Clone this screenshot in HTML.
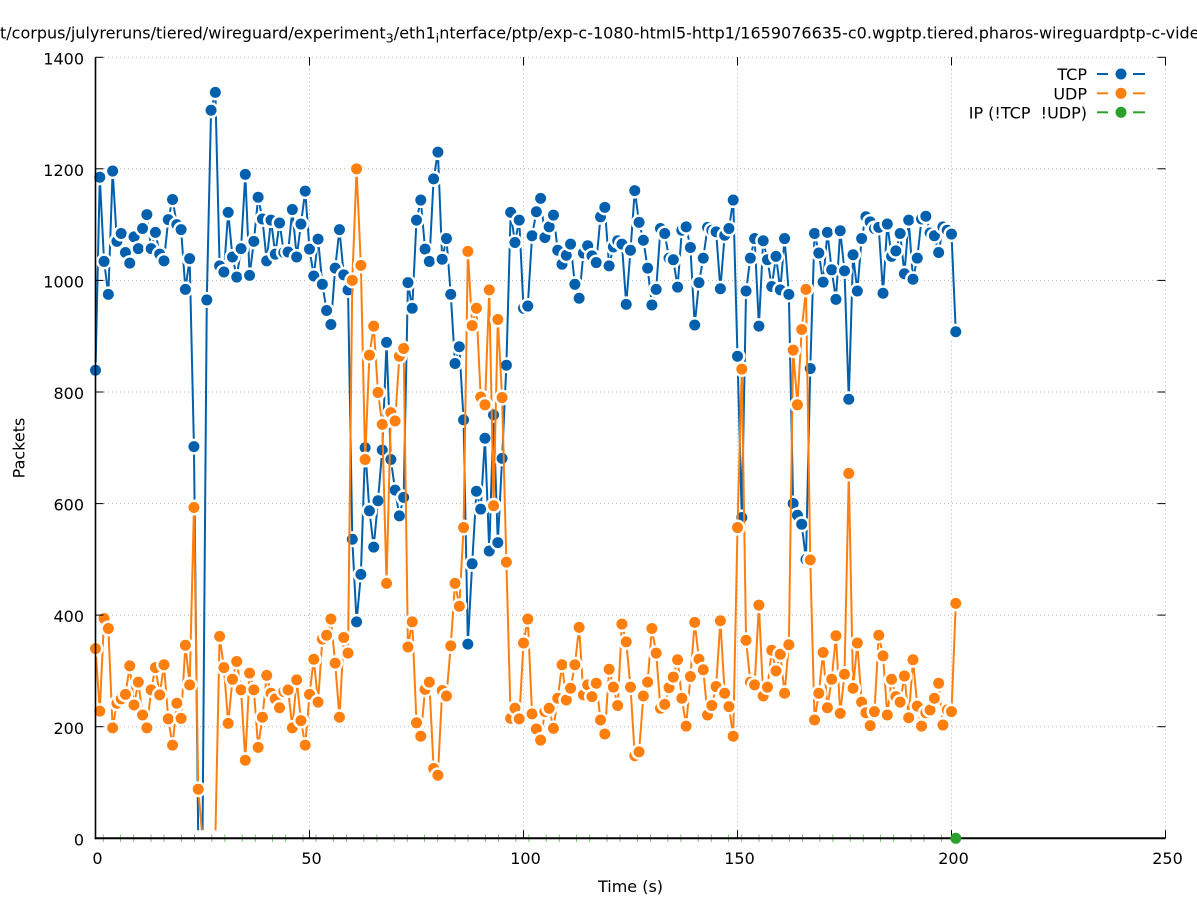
<!DOCTYPE html>
<html>
<head>
<meta charset="utf-8">
<style>
html,body{margin:0;padding:0;background:#fff;}
svg{display:block;}
text{font-family:"DejaVu Sans","Liberation Sans",sans-serif;font-size:16px;fill:#000;}
</style>
</head>
<body>
<svg id="s" width="1197" height="900" viewBox="0 0 1197 900" xmlns="http://www.w3.org/2000/svg">
<rect width="1197" height="900" fill="#fff"/>
<g stroke="#b4b4b4" stroke-width="1" stroke-dasharray="1,3" fill="none">
<line x1="309.5" y1="57.3" x2="309.5" y2="838"/>
<line x1="523.5" y1="57.3" x2="523.5" y2="838"/>
<line x1="737.5" y1="57.3" x2="737.5" y2="838"/>
<line x1="951.5" y1="57.3" x2="951.5" y2="838"/>
<line x1="1165.5" y1="57.3" x2="1165.5" y2="838"/>
<line x1="96" y1="726.7" x2="1165.5" y2="726.7"/>
<line x1="96" y1="615.1" x2="1165.5" y2="615.1"/>
<line x1="96" y1="503.6" x2="1165.5" y2="503.6"/>
<line x1="96" y1="392.0" x2="1165.5" y2="392.0"/>
<line x1="96" y1="280.4" x2="1165.5" y2="280.4"/>
<line x1="96" y1="168.8" x2="1165.5" y2="168.8"/>
<line x1="96" y1="57.3" x2="1165.5" y2="57.3"/>
</g>
<g id="data"></g>
<g id="greenticks"></g>
<g stroke="#000" fill="none">
<line x1="95.5" y1="57.3" x2="95.5" y2="839.3" stroke-width="1.6"/>
<line x1="94.7" y1="838.3" x2="1165.5" y2="838.3" stroke-width="2"/>
<g stroke-width="1">
<line x1="95.5" y1="726.7" x2="103.5" y2="726.7"/>
<line x1="95.5" y1="615.1" x2="103.5" y2="615.1"/>
<line x1="95.5" y1="503.6" x2="103.5" y2="503.6"/>
<line x1="95.5" y1="392.0" x2="103.5" y2="392.0"/>
<line x1="95.5" y1="280.4" x2="103.5" y2="280.4"/>
<line x1="95.5" y1="168.8" x2="103.5" y2="168.8"/>
<line x1="95.5" y1="57.3" x2="103.5" y2="57.3"/>
<line x1="1165.5" y1="726.7" x2="1157.5" y2="726.7"/>
<line x1="1165.5" y1="615.1" x2="1157.5" y2="615.1"/>
<line x1="1165.5" y1="503.6" x2="1157.5" y2="503.6"/>
<line x1="1165.5" y1="392.0" x2="1157.5" y2="392.0"/>
<line x1="1165.5" y1="280.4" x2="1157.5" y2="280.4"/>
<line x1="1165.5" y1="168.8" x2="1157.5" y2="168.8"/>
<line x1="1157.5" y1="57.3" x2="1165.5" y2="57.3"/>
<line x1="309.5" y1="838.3" x2="309.5" y2="830.3"/>
<line x1="523.5" y1="838.3" x2="523.5" y2="830.3"/>
<line x1="737.5" y1="838.3" x2="737.5" y2="830.3"/>
<line x1="951.5" y1="838.3" x2="951.5" y2="830.3"/>
<line x1="1165.5" y1="838.3" x2="1165.5" y2="830.3"/>
<line x1="309.5" y1="57.3" x2="309.5" y2="65.3"/>
<line x1="523.5" y1="57.3" x2="523.5" y2="65.3"/>
<line x1="737.5" y1="57.3" x2="737.5" y2="65.3"/>
<line x1="951.5" y1="57.3" x2="951.5" y2="65.3"/>
<line x1="1165.5" y1="57.3" x2="1165.5" y2="65.3"/>
</g>
</g>
<g id="lastgreen"></g>
<g text-anchor="end">
<text x="84" y="845.5">0</text>
<text x="84" y="733.8">200</text>
<text x="84" y="622.2">400</text>
<text x="84" y="510.7">600</text>
<text x="84" y="399.1">800</text>
<text x="84" y="287.5">1000</text>
<text x="84" y="175.9">1200</text>
<text x="84" y="64.4">1400</text>
</g>
<g text-anchor="middle">
<text x="97.5" y="864">0</text>
<text x="311.5" y="864">50</text>
<text x="525.5" y="864">100</text>
<text x="739.5" y="864">150</text>
<text x="953.5" y="864">200</text>
<text x="1167.5" y="864">250</text>
<text x="630.5" y="892">Time (s)</text>
<text transform="translate(24.5,448) rotate(-90)">Packets</text>
</g>
<text x="0" y="38.3">t/corpus/julyreruns/tiered/wireguard/experiment<tspan font-size="12.8" dy="4">3</tspan><tspan dy="-4">/eth1</tspan><tspan font-size="12.8" dy="4">i</tspan><tspan dy="-4">nterface/ptp/exp-c-1080-html5-http1/1659076635-c0.wgptp.tiered.pharos-wireguardptp-c-video</tspan></text>
<g text-anchor="end">
<text x="1087" y="80">TCP</text>
<text x="1087" y="99.3">UDP</text>
<text x="1087" y="118.3">IP (!TCP&#160;&#160;!UDP)</text>
</g>
<g stroke-width="2">
<line x1="1097" y1="74" x2="1108" y2="74" stroke="#0060ad"/>
<line x1="1133" y1="74" x2="1145" y2="74" stroke="#0060ad"/>
<line x1="1097" y1="93.3" x2="1108" y2="93.3" stroke="#ff7f0e"/>
<line x1="1133" y1="93.3" x2="1145" y2="93.3" stroke="#ff7f0e"/>
<line x1="1097" y1="112.3" x2="1108" y2="112.3" stroke="#2ca02c"/>
<line x1="1133" y1="112.3" x2="1145" y2="112.3" stroke="#2ca02c"/>
</g>
<circle cx="1121" cy="74" r="5.5" fill="#0060ad"/>
<circle cx="1121" cy="93.3" r="5.5" fill="#ff7f0e"/>
<circle cx="1121" cy="112.3" r="5.5" fill="#2ca02c"/>
</svg>
<script>
(function(){
var T=[839,1185,1034,975,1196,1070,1084,1050,1031,1078,1057,1093,1118,1057,1086,1047,1035,1109,1145,1100,
1091,984,1039,702,0,0,965,1305,1337,1026,1015,1122,1042,1006,1057,1190,1009,1070,1149,1110,
1035,1108,1047,1103,1050,1051,1127,1042,1101,1160,1056,1008,1074,993,946,921,1022,1091,1010,983,
536,388,473,700,587,522,605,696,889,679,624,578,611,996,950,1108,1144,1056,1034,1182,
1230,1038,1075,975,851,881,750,348,492,622,590,717,515,759,530,681,848,1122,1068,1108,
950,954,1080,1123,1147,1077,1096,1117,1054,1029,1045,1065,993,968,1049,1062,1044,1032,1114,1131,
1026,1060,1071,1065,957,1054,1161,1104,1072,1022,956,984,1093,1084,1040,1037,988,1090,1096,1059,
920,996,1040,1095,1090,1087,985,1081,1093,1144,864,575,981,1040,1075,918,1071,1037,989,1043,
983,1075,975,600,579,563,500,842,1084,1049,997,1086,1019,966,1089,1017,787,1046,981,1075,
1114,1105,1093,1095,977,1101,1043,1053,1084,1012,1108,1002,1040,1110,1115,1085,1080,1050,1096,1090,
1083,908];
var U=[340,228,394,376,198,242,250,258,309,239,280,221,198,266,306,257,311,214,167,242,
215,346,275,593,88,0,0,0,0,362,306,206,285,317,266,140,296,266,163,217,
292,260,250,234,263,266,198,284,211,167,258,321,244,357,364,393,314,217,360,332,
1000,1200,1027,679,866,918,799,742,457,763,748,864,878,343,388,207,183,267,280,125,
113,265,255,345,457,416,557,1052,919,950,791,777,983,596,930,790,495,215,233,214,
350,393,223,196,176,227,233,197,251,311,248,269,311,378,257,275,254,278,212,187,
303,271,238,384,352,271,148,155,255,280,376,332,233,240,270,289,320,251,201,290,
387,321,302,221,238,272,390,260,236,183,557,841,355,280,275,418,255,271,337,300,
330,260,347,875,777,912,984,499,212,260,333,234,285,363,224,294,654,269,350,244,
225,202,227,364,327,221,285,254,244,291,216,320,237,201,225,230,251,278,203,230,
227,421];
function X(i){return 95.5+4.28*i;}
function Y(v){return 838.3-0.5579*v;}
var out='';
function series(d,c){
  var p=[];
  for(var i=0;i<d.length;i++){p.push(X(i).toFixed(2)+','+Y(d[i]).toFixed(2));}
  out+='<polyline points="'+p.join(' ')+'" fill="none" stroke="'+c+'" stroke-width="2" stroke-linejoin="round"/>';
  for(var i=0;i<d.length;i++){
    var x=X(i).toFixed(2),y=Y(d[i]).toFixed(2);
    out+='<circle cx="'+x+'" cy="'+y+'" r="8" fill="#fff"/>';
    if(d[i]>0) out+='<circle cx="'+x+'" cy="'+y+'" r="5.5" fill="'+c+'"/>';
  }
}
series(T,'#0060ad');
series(U,'#ff7f0e');
document.getElementById('data').innerHTML=out;
var g='';var px=103.3;var k=0;
while(px<950){g+='<line x1="'+px.toFixed(1)+'" y1="834.5" x2="'+px.toFixed(1)+'" y2="842" stroke="#7cc47c" stroke-width="1"/>';px+=(k%2===0)?17.3:13.1;k++;}
document.getElementById('greenticks').innerHTML=g;
document.getElementById('lastgreen').innerHTML='<circle cx="955.8" cy="838.3" r="5.5" fill="#2ca02c"/>';
})();
</script>
</body>
</html>
